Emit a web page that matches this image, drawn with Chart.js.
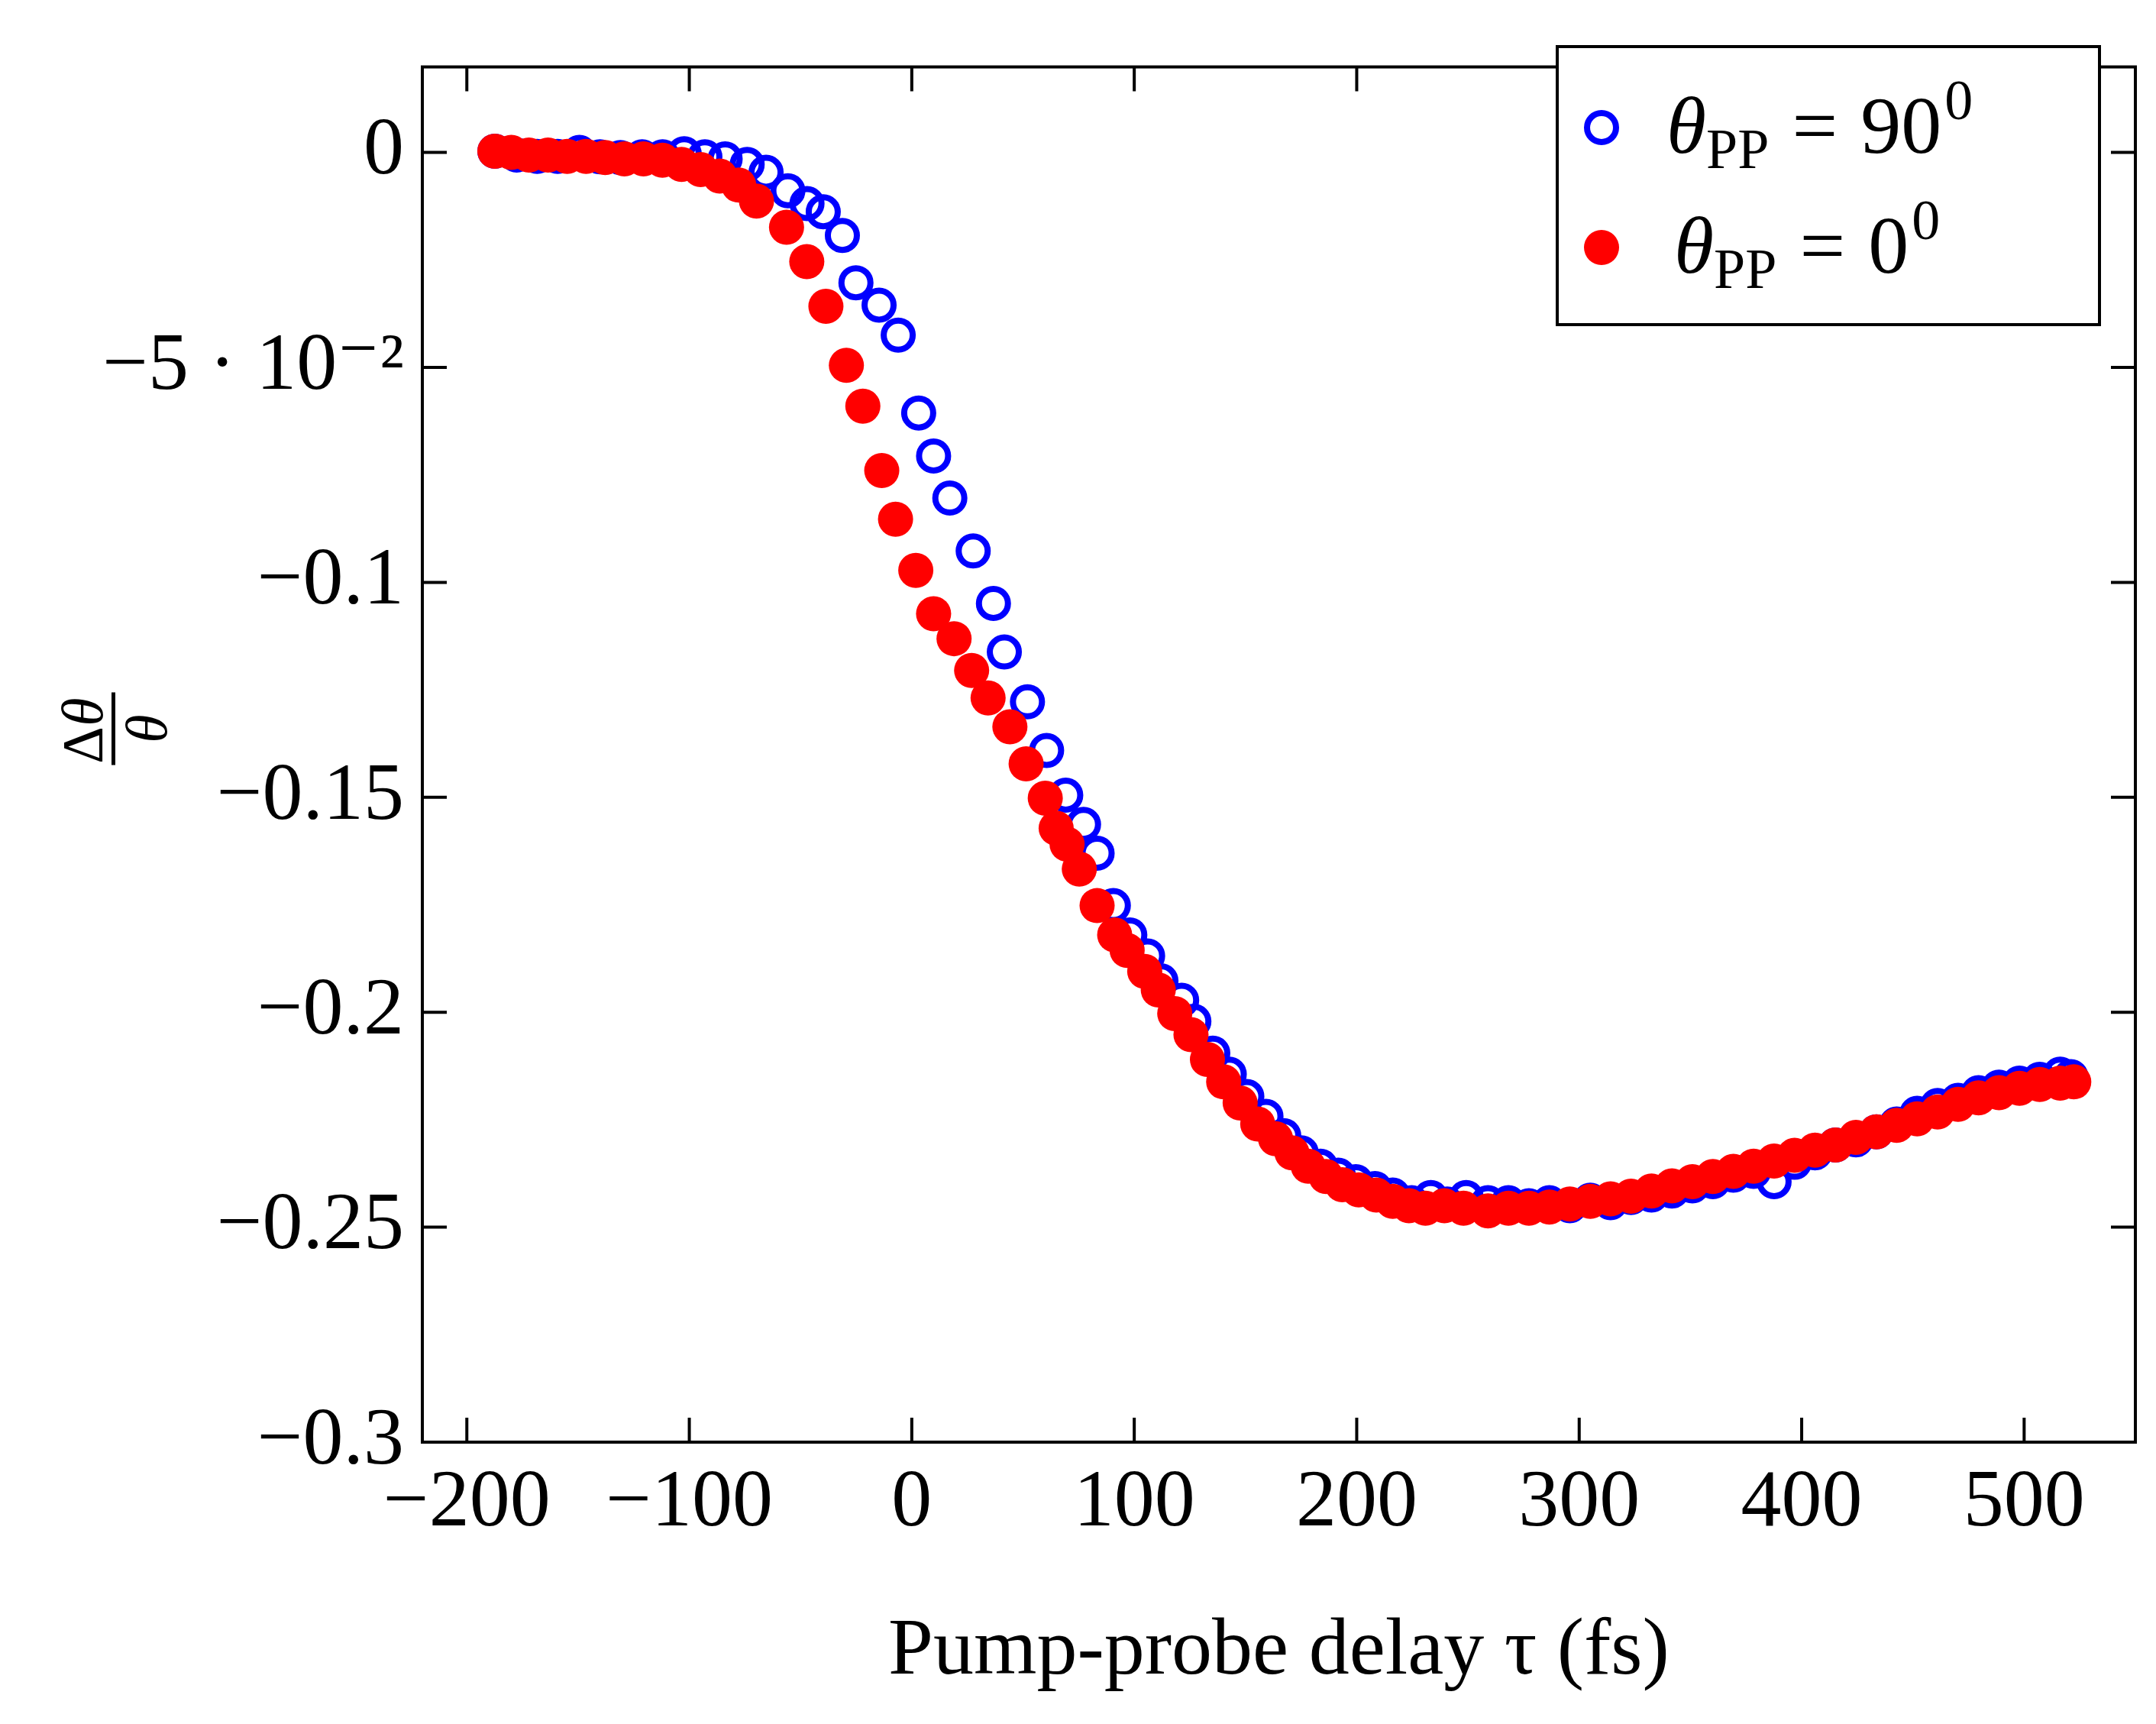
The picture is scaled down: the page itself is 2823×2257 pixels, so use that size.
<!DOCTYPE html>
<html>
<head>
<meta charset="utf-8">
<script src="https://cdn.jsdelivr.net/npm/chart.js@4.4.0/dist/chart.umd.min.js"></script>
<style>
  html, body { margin: 0; padding: 0; background: #fff; }
  #wrap { width: 2823px; height: 2257px; }
</style>
</head>
<body>
<div id="wrap"><canvas id="myChart"></canvas></div>
<script>
// delay tau (fs) and relative rotation
const xPerp = [-187.4,-177.6,-168.4,-159.2,-149.4,-140.2,-131,-121.2,-112,-102.3,
  -93,-83.9,-74,-65.5,-55.7,-47.1,-39.8,-31.2,-25.1,-14.7,
  -6.1,3.1,9.8,17.1,27.6,36.7,41.6,52,60.6,69.2,
  77.2,83.3,90.6,98,106,112,121.3,126.8,135.3,142.7,
  150.6,159.2,167.2,175.1,183.7,191.7,199.6,208.2,216.2,224.7,
  233.3,240.7,249.2,259,268.2,277.4,286.6,295.8,305,314.1,
  323.3,332.5,341.7,350.9,360.1,369.3,378.4,387.6,396.8,406,
  415.2,424.4,433.6,442.7,451.9,461.1,470.3,479.5,488.7,497.9,
  507,516.2,521];
const yPerp = [0.0003,-0.0006,-0.0009,-0.0009,0,-0.001,-0.0012,-0.001,-0.001,-0.0003,
  -0.001,-0.0015,-0.0028,-0.0046,-0.0089,-0.0119,-0.0138,-0.0193,-0.0303,-0.0355,
  -0.0425,-0.0606,-0.0706,-0.0804,-0.0927,-0.1049,-0.1162,-0.1278,-0.1391,-0.1495,
  -0.1563,-0.163,-0.1752,-0.182,-0.1869,-0.1927,-0.1972,-0.2021,-0.2095,-0.2144,
  -0.2196,-0.2242,-0.2287,-0.2327,-0.2358,-0.2379,-0.2394,-0.241,-0.2425,-0.2443,
  -0.2431,-0.2446,-0.2431,-0.2443,-0.2443,-0.245,-0.2443,-0.245,-0.2437,-0.2443,
  -0.2431,-0.2425,-0.2416,-0.2404,-0.2394,-0.2379,-0.237,-0.2394,-0.2349,-0.2327,
  -0.2309,-0.2297,-0.2278,-0.226,-0.2235,-0.2217,-0.2205,-0.2187,-0.2174,-0.2165,
  -0.2156,-0.2144,-0.215];

const xPar = [-187.4,-180,-172.1,-163.5,-154.9,-146.4,-137.8,-129.2,-120.6,-112.1,
  -103.5,-94.9,-86.3,-77.8,-69.8,-56.3,-47.2,-38.6,-29.4,-22,
  -13.5,-7.3,1.8,9.8,19,26.9,34.3,44.1,51.4,60,
  64.9,69.8,75.3,83.3,91.2,96.8,104.7,110.8,118.2,125.5,
  132.9,140.2,147.6,155.5,163.5,170.9,178.2,186.2,193.5,200.9,
  208.8,216.2,223.5,230.9,239.4,248,259,268.2,
  277.4,286.6,295.8,305,314.1,323.3,332.5,341.7,350.9,360.1,
  369.3,378.4,387.6,396.8,406,415.2,424.4,433.6,442.7,451.9,
  461.1,470.3,479.5,488.7,497.9,507,516.2,522.3];
const yPar = [0.0003,0,-0.0006,-0.0006,-0.0009,-0.0009,-0.0012,-0.0015,-0.0015,-0.0018,
  -0.0028,-0.004,-0.0055,-0.0076,-0.0113,-0.0174,-0.0254,-0.0358,-0.0495,-0.059,
  -0.074,-0.0853,-0.0972,-0.1073,-0.1131,-0.1205,-0.1269,-0.1336,-0.1422,-0.1502,
  -0.1572,-0.1609,-0.1667,-0.1752,-0.182,-0.1856,-0.1905,-0.1948,-0.2003,-0.2052,
  -0.211,-0.2162,-0.2211,-0.226,-0.2294,-0.2327,-0.2358,-0.2382,-0.2401,-0.2413,
  -0.2425,-0.244,-0.245,-0.2456,-0.245,-0.2456,-0.2462,-0.2456,
  -0.2456,-0.2453,-0.2446,-0.244,-0.2434,-0.2428,-0.2416,-0.2404,-0.2394,-0.2382,
  -0.237,-0.2358,-0.2346,-0.2333,-0.2321,-0.2309,-0.2291,-0.2278,-0.2263,-0.2248,
  -0.2232,-0.2214,-0.2199,-0.2187,-0.2177,-0.2168,-0.2165,-0.2162];

const xTicks = [-200, -100, 0, 100, 200, 300, 400, 500];
const yTicks = [-0.3, -0.25, -0.2, -0.15, -0.1, -0.05, 0];
const yTickLabels = ['\u22120.3', '\u22120.25', '\u22120.2', '\u22120.15', '\u22120.1', '\u22125 \u00b7 10\u207b\u00b2', '0'];

const FONT = '"Liberation Serif", "DejaVu Serif", serif';
const FS = 106;

const frame = {
    id: 'frame',
    afterDraw(chart) {
        const c = chart.ctx, a = chart.chartArea;
        const sx = chart.scales.x, sy = chart.scales.y;
        c.save();
        c.strokeStyle = '#000';
        c.lineWidth = 4;
        c.strokeRect(a.left, a.top, a.right - a.left, a.bottom - a.top);
        const L = 32;
        c.beginPath();
        xTicks.forEach(v => {
            const px = sx.getPixelForValue(v);
            c.moveTo(px, a.bottom); c.lineTo(px, a.bottom - L);
            c.moveTo(px, a.top); c.lineTo(px, a.top + L);
        });
        yTicks.forEach(v => {
            const py = sy.getPixelForValue(v);
            c.moveTo(a.left, py); c.lineTo(a.left + L, py);
            c.moveTo(a.right, py); c.lineTo(a.right - L, py);
        });
        c.stroke();

        // y axis title: fraction delta theta over theta
        c.translate(150, 954);
        c.rotate(-Math.PI / 2);
        c.fillStyle = '#000';
        c.textAlign = 'center';
        c.textBaseline = 'alphabetic';
        c.font = 'italic bold 76px ' + FONT;
        const w1 = c.measureText('\u0394\u03b8').width;
        c.font = '76px ' + FONT;
        c.fillText('\u0394', -w1 / 2 + 22, -16);
        c.font = 'italic 76px ' + FONT;
        c.fillText('\u03b8', 22, -16);
        c.fillText('\u03b8', 0, 68);
        c.fillRect(-w1 / 2 - 4, -4, w1 + 8, 5);
        c.restore();

        // legend
        c.save();
        c.strokeStyle = '#000';
        c.lineWidth = 4;
        c.fillStyle = '#fff';
        c.fillRect(2039, 61, 710, 364);
        c.strokeRect(2039, 61, 710, 364);
        c.beginPath();
        c.arc(2097, 167, 19, 0, Math.PI * 2);
        c.strokeStyle = '#0000ff';
        c.lineWidth = 8;
        c.stroke();
        c.beginPath();
        c.arc(2097, 324, 23, 0, Math.PI * 2);
        c.fillStyle = '#ff0000';
        c.fill();
        const entry = (x, y, val) => {
            c.fillStyle = '#000';
            c.textBaseline = 'alphabetic';
            c.textAlign = 'left';
            c.font = 'italic ' + FS + 'px ' + FONT;
            c.fillText('\u03b8', x, y);
            x += c.measureText('\u03b8').width;
            c.font = '74px ' + FONT;
            c.fillText('PP', x, y + 20);
            x += c.measureText('PP').width + 30;
            c.font = FS + 'px ' + FONT;
            c.fillText('=', x, y);
            x += c.measureText('=').width + 30;
            c.fillText(val, x, y);
            x += c.measureText(val).width + 4;
            c.font = '74px ' + FONT;
            c.fillText('0', x, y - 44);
        };
        entry(2182, 200, '90');
        entry(2192, 357, '0');
        c.restore();
    }
};

new Chart(document.getElementById('myChart').getContext('2d'), {
    type: 'scatter',
    data: {
        datasets: [{
            label: 'theta_PP = 90',
            data: xPerp.map((x, i) => ({ x: x, y: yPerp[i] })),
            pointStyle: 'circle',
            pointRadius: 19,
            pointBorderWidth: 8,
            pointBackgroundColor: 'rgba(0,0,0,0)',
            pointBorderColor: '#0000ff',
            order: 1
        }, {
            label: 'theta_PP = 0',
            data: xPar.map((x, i) => ({ x: x, y: yPar[i] })),
            pointStyle: 'circle',
            pointRadius: 23,
            pointBorderWidth: 0,
            pointBackgroundColor: '#ff0000',
            pointBorderColor: '#ff0000',
            order: 0
        }]
    },
    options: {
        responsive: true,
        maintainAspectRatio: false,
        animation: false,
        events: [],
        layout: { padding: { top: -80, right: -40, left: 0, bottom: 0 } },
        plugins: { legend: { display: false }, tooltip: { enabled: false } },
        scales: {
            x: {
                type: 'linear', min: -220, max: 550,
                afterBuildTicks: s => { s.ticks = xTicks.map(v => ({ value: v })); },
                afterFit: s => { s.height = 369; },
                grid: { display: false, drawTicks: false },
                border: { display: false },
                ticks: {
                    color: '#000', padding: 18,
                    font: { family: FONT, size: FS },
                    callback: v => (v < 0 ? '\u2212' + Math.abs(v) : String(v))
                },
                title: {
                    display: true, text: 'Pump-probe delay \u03c4 (fs)', color: '#000',
                    font: { family: FONT, size: FS }, padding: { top: 50, bottom: 30 }
                }
            },
            y: {
                type: 'linear', min: -0.3, max: 0.0199,
                afterBuildTicks: s => { s.ticks = yTicks.map(v => ({ value: v })); },
                afterFit: s => { s.width = 553; },
                grid: { display: false, drawTicks: false },
                border: { display: false },
                ticks: {
                    color: '#000', padding: 24,
                    font: { family: FONT, size: FS },
                    callback: (v, i) => yTickLabels[i]
                }
            }
        }
    },
    plugins: [frame]
});
</script>
</body>
</html>
